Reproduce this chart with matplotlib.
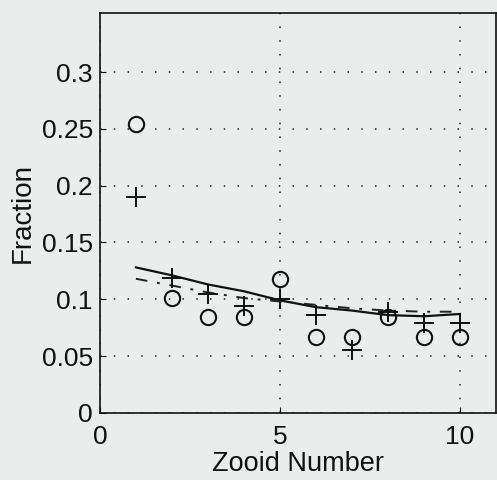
import matplotlib
matplotlib.use("Agg")
import matplotlib.pyplot as plt

zooid = [1, 2, 3, 4, 5, 6, 7, 8, 9, 10]
circles = [0.254, 0.101, 0.084, 0.084, 0.118, 0.067, 0.067, 0.084, 0.067, 0.067]
plus = [0.190, 0.119, 0.105, 0.094, 0.100, 0.086, 0.055, 0.089, 0.079, 0.079]
solid_fit = [0.128, 0.121, 0.113, 0.107, 0.099, 0.093, 0.090, 0.086, 0.085, 0.087]
dashdot_fit = [0.118, 0.112, 0.106, 0.101, 0.098, 0.095, 0.092, 0.090, 0.089, 0.089]
xticks = [0, 5, 10]
yticks = [0, 0.05, 0.1, 0.15, 0.2, 0.25, 0.3]
yticklabels = ["0", "0.05", "0.1", "0.15", "0.2", "0.25", "0.3"]

plt.rcParams['font.family'] = ['Liberation Sans', 'DejaVu Sans']
bg = '#ebeded'
fig = plt.figure(figsize=(4.97, 4.8), dpi=100, facecolor=bg)
ax = fig.add_axes([0.201, 0.140, 0.797, 0.833], facecolor=bg)

ax.plot(zooid, solid_fit, '-', color='#111111', lw=1.6)
ax.plot(zooid, dashdot_fit, '-.', color='#222222', lw=1.4, dashes=(6, 5, 1.5, 5))
ax.plot(zooid, circles, 'o', mfc='none', mec='#111111', mew=1.5, ms=11)
ax.plot(zooid, plus, '+', color='#111111', mew=1.4, ms=14)

ax.set_xlim(0, 11)
ax.set_ylim(0, 0.352)
ax.set_xticks(xticks)
ax.set_yticks(yticks)
ax.set_yticklabels(yticklabels)
ax.grid(True, linestyle=(0, (1, 8)), color='#222222', lw=1.1)
ax.tick_params(direction='in', length=4, labelsize=19, colors='#111111', pad=5)
ax.tick_params(axis='x', pad=9)
for s in ax.spines.values():
    s.set_color('#111111')
    s.set_linewidth(1.2)
ax.set_xlabel('Zooid Number', fontsize=19.5, color='#111111', labelpad=1)
ax.set_ylabel('Fraction', fontsize=20, color='#111111', labelpad=4)

fig.savefig('out.png', dpi=100, facecolor=bg)
